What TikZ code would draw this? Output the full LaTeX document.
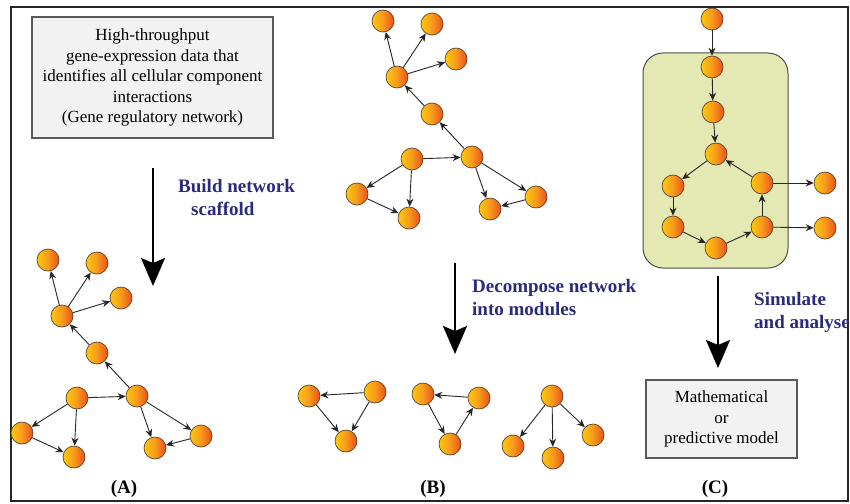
\documentclass[tikz,border=0pt]{standalone}
\usepackage{fontspec}
\setmainfont{Liberation Serif}
\usetikzlibrary{arrows.meta}

\definecolor{geneedge}{HTML}{5A4630}
\definecolor{geneyellow}{HTML}{FFC808}
\definecolor{geneorange}{HTML}{F79A1E}
\definecolor{genered}{HTML}{EC4E1A}
\definecolor{stepnavy}{HTML}{2C2A7A}
\definecolor{cellfill}{HTML}{E4E8B2}
\definecolor{boxfill}{HTML}{F2F2F2}

\tikzset{
  gene/.style={circle, minimum size=22pt, inner sep=0pt, draw=geneedge,
    line width=0.7pt, left color=geneyellow, right color=genered,
    middle color=geneorange},
  link/.style={-{Stealth[length=8pt,width=7pt]}, line width=0.9pt, draw=black!85},
  bigarrow/.style={-{Stealth[length=28pt,width=24pt,inset=5pt]}, line width=2.6pt},
  steplabel/.style={font=\bfseries\fontsize{19}{23}\selectfont, text=stepnavy,
    align=left, anchor=west, inner sep=0pt},
  panellabel/.style={font=\bfseries\fontsize{19}{23}\selectfont, inner sep=0pt},
  infobox/.style={draw=black!65, line width=1.2pt, fill=boxfill, align=center,
    font=\fontsize{17}{20.5}\selectfont, inner sep=0pt},
}

% A gene network scaffold, positioned around its hub node
\newcommand{\scaffoldnet}{%
  \node[gene] (hub) at (0,0) {};
  \node[gene] (n1) at (-14,-56) {};
  \node[gene] (n2) at (35,-53) {};
  \node[gene] (n3) at (59,-18) {};
  \node[gene] (n5) at (35,37) {};
  \node[gene] (n6) at (15,82) {};
  \node[gene] (n7) at (75,80) {};
  \node[gene] (n8) at (-40,117) {};
  \node[gene] (n9) at (12,141) {};
  \node[gene] (n10) at (93,132) {};
  \node[gene] (n11) at (139,120) {};
  \draw[link] (hub) -- (n1);
  \draw[link] (hub) -- (n2);
  \draw[link] (hub) -- (n3);
  \draw[link] (n5) -- (hub);
  \draw[link] (n7) -- (n5);
  \draw[link] (n6) -- (n7);
  \draw[link] (n6) -- (n8);
  \draw[link] (n6) -- (n9);
  \draw[link] (n8) -- (n9);
  \draw[link] (n7) -- (n10);
  \draw[link] (n7) -- (n11);
  \draw[link] (n11) -- (n10);
}

\begin{document}
\begin{tikzpicture}[x=1pt, y=-1pt]
  \useasboundingbox (0,0) rectangle (850,503);
  \fill[white] (0,0) rectangle (850,503);
  \draw[line width=1.2pt, black!85] (11,7) rectangle (848,501);

  % ---- (A) build the scaffold
  \node[infobox, minimum width=241pt, minimum height=121pt] (data) at (152.5,77.5)
    {High-throughput\\gene-expression data that\\identifies all cellular component\\interactions\\(Gene regulatory network)};
  \coordinate (arrA0) at (153,168);
  \coordinate (arrA1) at (153,286);
  \draw[bigarrow] (arrA0) -- (arrA1);
  \node[steplabel] (build) at (178,197) {Build network\\\hspace*{13pt}scaffold};

  \begin{scope}[shift={(62,316)}, name prefix=A-]
    \scaffoldnet
  \end{scope}
  \node[panellabel] (labA) at (124,489) {(A)};

  % ---- (B) decompose into modules
  \begin{scope}[shift={(397,77)}, name prefix=B-]
    \scaffoldnet
  \end{scope}
  \coordinate (arrB0) at (455,263);
  \coordinate (arrB1) at (455,354);
  \draw[bigarrow] (arrB0) -- (arrB1);
  \node[steplabel] (decomp) at (472,298) {Decompose network\\into modules};

  \node[gene] (m1a) at (309,396) {};
  \node[gene] (m1b) at (375,392) {};
  \node[gene] (m1c) at (346,441) {};
  \draw[link] (m1b) -- (m1a);
  \draw[link] (m1a) -- (m1c);
  \draw[link] (m1b) -- (m1c);

  \node[gene] (m2a) at (423,394) {};
  \node[gene] (m2b) at (479,398) {};
  \node[gene] (m2c) at (450,444) {};
  \draw[link] (m2b) -- (m2a);
  \draw[link] (m2a) -- (m2c);
  \draw[link] (m2c) -- (m2b);

  \node[gene] (m3a) at (552,396) {};
  \node[gene] (m3b) at (513,446) {};
  \node[gene] (m3c) at (553,458) {};
  \node[gene] (m3d) at (593,435) {};
  \draw[link] (m3a) -- (m3b);
  \draw[link] (m3a) -- (m3c);
  \draw[link] (m3a) -- (m3d);
  \node[panellabel] (labB) at (433,489) {(B)};

  % ---- (C) simulate the module
  \node[draw=black!70, line width=1pt, fill=cellfill, rounded corners=20pt,
    minimum width=145pt, minimum height=215pt] (cell) at (715.5,160.5) {};
  \node[gene] (c0) at (712,19) {};
  \node[gene] (c1) at (712,67) {};
  \node[gene] (c2) at (713,112) {};
  \node[gene] (c3) at (716,154) {};
  \node[gene] (c4) at (673,186) {};
  \node[gene] (c5) at (673,227) {};
  \node[gene] (c6) at (716,248) {};
  \node[gene] (c7) at (762,227) {};
  \node[gene] (c8) at (762,183) {};
  \node[gene] (c9) at (825,183) {};
  \node[gene] (c10) at (825,228) {};
  \draw[link] (c0) -- (c1);
  \draw[link] (c1) -- (c2);
  \draw[link] (c2) -- (c3);
  \draw[link] (c3) -- (c4);
  \draw[link] (c4) -- (c5);
  \draw[link] (c5) -- (c6);
  \draw[link] (c6) -- (c7);
  \draw[link] (c7) -- (c8);
  \draw[link] (c8) -- (c3);
  \draw[link] (c8) -- (c9);
  \draw[link] (c7) -- (c10);

  \coordinate (arrC0) at (718,276);
  \coordinate (arrC1) at (718,368);
  \draw[bigarrow] (arrC0) -- (arrC1);
  \node[steplabel] (simulate) at (754,312) {Simulate\\and analyse};

  \node[infobox, minimum width=151pt, minimum height=78pt] (model) at (721.5,419)
    {Mathematical\\or\\predictive model};
  \node[panellabel] (labC) at (715,489) {(C)};
\end{tikzpicture}
\end{document}
